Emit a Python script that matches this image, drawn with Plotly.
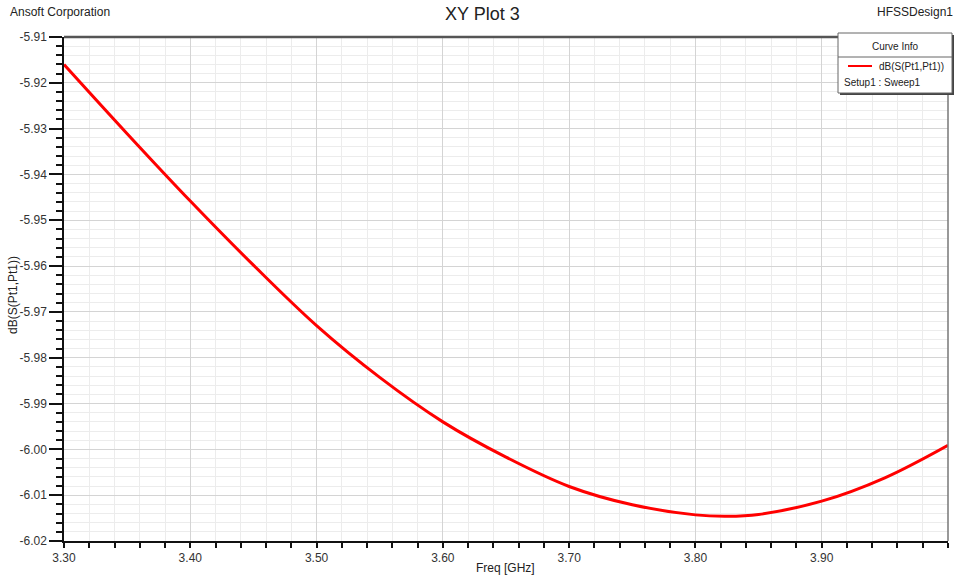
import plotly.graph_objects as go

freq = [3.30, 3.35, 3.40, 3.45, 3.50, 3.55, 3.60, 3.65, 3.70, 3.75,
        3.80, 3.825, 3.85, 3.90, 3.95, 4.00]
s11_db = [-5.9160, -5.9311, -5.9458, -5.9598, -5.9730, -5.9843, -5.9940, -6.0017,
          -6.0081, -6.0121, -6.0143, -6.0146, -6.0142, -6.0113, -6.0062, -5.9991]

x_ticks = [3.30, 3.40, 3.50, 3.60, 3.70, 3.80, 3.90, 4.00]
x_labels = ["3.30", "3.40", "3.50", "3.60", "3.70", "3.80", "3.90", "4.00"]
y_ticks = [-5.91, -5.92, -5.93, -5.94, -5.95, -5.96, -5.97, -5.98, -5.99, -6.00, -6.01, -6.02]
y_labels = ["-5.91", "-5.92", "-5.93", "-5.94", "-5.95", "-5.96", "-5.97", "-5.98",
            "-5.99", "-6.00", "-6.01", "-6.02"]

W, H = 958, 578
L, R, T, B = 64, 948, 37, 541

def px(x):
    return (x - L) / (R - L)

def py(y):
    return (B - y) / (B - T)

FONT = "Liberation Sans, Arial, sans-serif"

fig = go.Figure()
fig.add_trace(go.Scatter(x=freq, y=s11_db, mode="lines",
                         line=dict(color="#ff0000", width=3, shape="spline", smoothing=1.0),
                         showlegend=False, hoverinfo="x+y"))

fig.update_layout(
    width=W, height=H,
    margin=dict(l=L, r=W - R, t=T, b=H - B),
    paper_bgcolor="white", plot_bgcolor="white",
    font=dict(family=FONT, size=12, color="#222"),
    showlegend=False,
    xaxis=dict(range=[3.30, 4.00], tickvals=x_ticks, ticktext=x_labels,
               showgrid=True, gridcolor="#d4d4d4", gridwidth=1,
               showline=True, linecolor="#111", linewidth=1.5,
               ticks="outside", ticklen=5, tickcolor="#111", tickwidth=1.5,
               minor=dict(dtick=0.02, showgrid=True, gridcolor="#ececec",
                          ticks="outside", ticklen=5, tickcolor="#111", tickwidth=1.5),
               zeroline=False, tickfont=dict(size=12, color="#333")),
    yaxis=dict(range=[-6.02, -5.91], tickvals=y_ticks, ticktext=y_labels,
               showgrid=True, gridcolor="#d4d4d4", gridwidth=1,
               showline=True, linecolor="#111", linewidth=1.5,
               ticks="outside", ticklen=13, tickcolor="#111", tickwidth=1.5,
               minor=dict(dtick=0.002, showgrid=True, gridcolor="#ececec",
                          ticks="outside", ticklen=6, tickcolor="#111", tickwidth=1.5),
               zeroline=False, tickfont=dict(size=12, color="#333")),
)

shapes = [
    dict(type="line", xref="paper", yref="paper", x0=0, x1=1, y0=1, y1=1,
         line=dict(color="#555", width=2.5), layer="above"),
    dict(type="line", xref="paper", yref="paper", x0=1, x1=1, y0=0, y1=1,
         line=dict(color="#777", width=1.5), layer="above"),
    dict(type="rect", xref="paper", yref="paper",
         x0=px(840), x1=px(954), y0=py(95), y1=py(35),
         line=dict(width=0), fillcolor="#444", layer="above"),
    dict(type="rect", xref="paper", yref="paper",
         x0=px(838), x1=px(952), y0=py(93), y1=py(33),
         line=dict(color="#666", width=1), fillcolor="white", layer="above"),
    dict(type="line", xref="paper", yref="paper",
         x0=px(838), x1=px(952), y0=py(57), y1=py(57),
         line=dict(color="#666", width=1), layer="above"),
    dict(type="line", xref="paper", yref="paper",
         x0=px(848), x1=px(872), y0=py(66), y1=py(66),
         line=dict(color="#ff0000", width=2), layer="above"),
]

annotations = [
    dict(text="XY Plot 3", xref="paper", yref="paper", x=px(482), y=py(14),
         showarrow=False, font=dict(size=18, color="#222"), xanchor="center", yanchor="middle"),
    dict(text="Ansoft Corporation", xref="paper", yref="paper", x=px(8), y=py(12),
         showarrow=False, font=dict(size=12, color="#222"), xanchor="left", yanchor="middle"),
    dict(text="HFSSDesign1", xref="paper", yref="paper", x=px(955), y=py(12),
         showarrow=False, font=dict(size=12, color="#222"), xanchor="right", yanchor="middle"),
    dict(text="Freq [GHz]", xref="paper", yref="paper", x=px(505), y=py(568),
         showarrow=False, font=dict(size=12, color="#222"), xanchor="center", yanchor="middle"),
    dict(text="dB(S(Pt1,Pt1))", xref="paper", yref="paper", x=px(13), y=py(295),
         showarrow=False, textangle=-90, font=dict(size=12, color="#222"),
         xanchor="center", yanchor="middle"),
    dict(text="Curve Info", xref="paper", yref="paper", x=px(895), y=py(46),
         showarrow=False, font=dict(size=10, color="#222"), xanchor="center", yanchor="middle"),
    dict(text="dB(S(Pt1,Pt1))", xref="paper", yref="paper", x=px(877), y=py(66),
         showarrow=False, font=dict(size=10, color="#222"), xanchor="left", yanchor="middle"),
    dict(text="Setup1 : Sweep1", xref="paper", yref="paper", x=px(842), y=py(82),
         showarrow=False, font=dict(size=10, color="#222"), xanchor="left", yanchor="middle"),
]

fig.update_layout(shapes=shapes, annotations=annotations)
fig.write_html("out.html")
